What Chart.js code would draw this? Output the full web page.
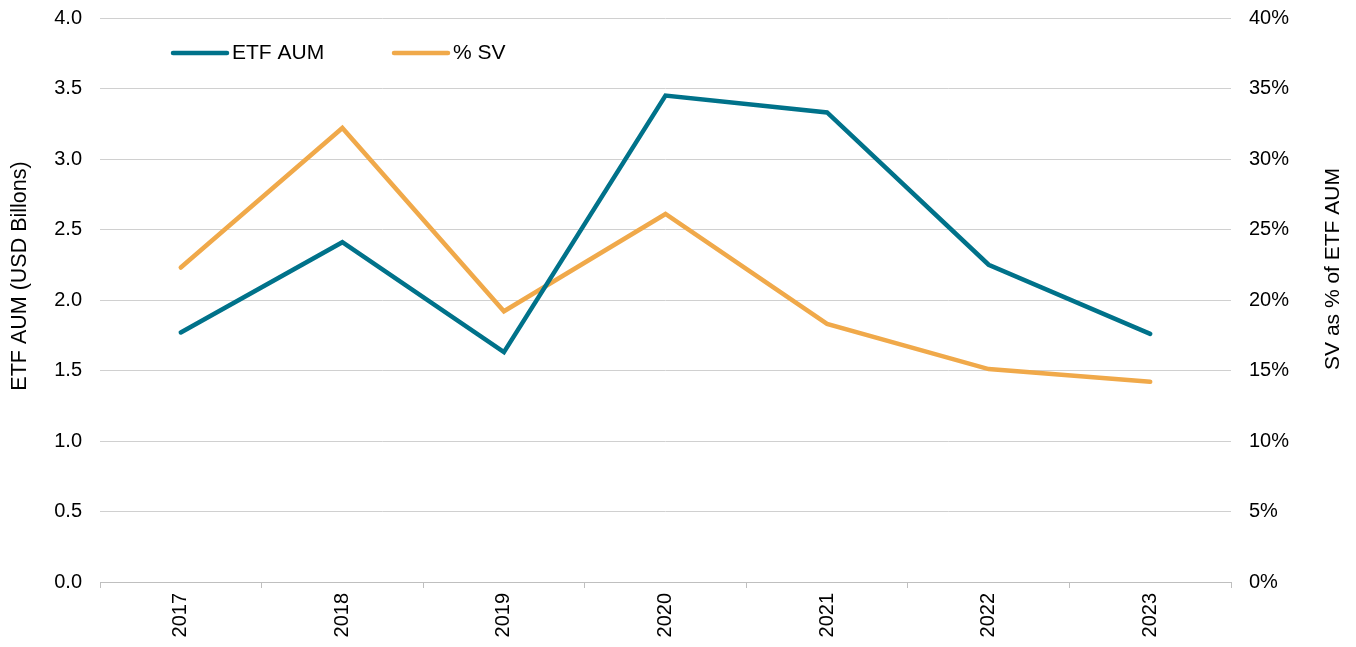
<!DOCTYPE html>
<html>
<head>
<meta charset="utf-8">
<script src="https://cdn.jsdelivr.net/npm/chart.js@4/dist/chart.umd.min.js"></script>
<style>
  html, body { margin: 0; padding: 0; background: #fff; }
  #wrap { width: 1356px; height: 647px; position: relative; overflow: hidden; }
  #grafico { position: absolute; left: 0; top: -12px; }
</style>
</head>
<body>
<div id="wrap"><canvas id="grafico" width="1356" height="659"></canvas></div>
<script>
// dados
const anos = ["2017", "2018", "2019", "2020", "2021", "2022", "2023"];
const etfAum = [1.77, 2.41, 1.63, 3.45, 3.33, 2.25, 1.76];
const pctSv = [22.3, 32.2, 19.2, 26.1, 18.3, 15.1, 14.2];

const corEtf = "#00728A";
const corSv = "#F0A94A";
const fonte = "'Liberation Sans', Arial, sans-serif";
const desloc = 12; // canvas sobe 12px

function textoVertical(ctx, texto, x, y) {
  ctx.save();
  ctx.translate(x, y);
  ctx.rotate(-Math.PI / 2);
  ctx.textAlign = "center";
  ctx.textBaseline = "middle";
  ctx.fillText(texto, 0, 0);
  ctx.restore();
}

// legenda e titulos dos eixos desenhados a mao
const extras = {
  id: "extras",
  afterDraw(chart) {
    const ctx = chart.ctx;
    const itens = [
      { texto: "ETF AUM", cor: corEtf, x: 173 },
      { texto: "% SV", cor: corSv, x: 394 },
    ];
    const yLeg = 53 + desloc;
    ctx.save();
    ctx.font = "21px " + fonte;
    ctx.textBaseline = "middle";
    itens.forEach((it) => {
      ctx.strokeStyle = it.cor;
      ctx.lineWidth = 4.5;
      ctx.lineCap = "round";
      ctx.beginPath();
      ctx.moveTo(it.x, yLeg);
      ctx.lineTo(it.x + 54, yLeg);
      ctx.stroke();
      ctx.fillStyle = "#000";
      ctx.fillText(it.texto, it.x + 59, yLeg);
    });

    ctx.font = "21.5px " + fonte;
    textoVertical(ctx, "ETF AUM (USD Billons)", 20, 276 + desloc);
    ctx.font = "21px " + fonte;
    textoVertical(ctx, "SV as % of ETF AUM", 1333, 269 + desloc);
    ctx.restore();
  },
};

const ctx = document.getElementById("grafico").getContext("2d");
new Chart(ctx, {
  type: "line",
  data: {
    labels: anos,
    datasets: [
      {
        label: "ETF AUM",
        data: etfAum,
        yAxisID: "y",
        borderColor: corEtf,
        borderWidth: 4.5,
        pointRadius: 0,
        tension: 0,
        borderCapStyle: "round",
      },
      {
        label: "% SV",
        data: pctSv,
        yAxisID: "y1",
        borderColor: corSv,
        borderWidth: 4.5,
        pointRadius: 0,
        tension: 0,
        borderCapStyle: "round",
      },
    ],
  },
  options: {
    responsive: false,
    animation: false,
    layout: { padding: 0 },
    plugins: { legend: { display: false }, tooltip: { enabled: false } },
    scales: {
      x: {
        offset: true,
        grid: {
          offset: true,
          drawOnChartArea: false,
          drawTicks: true,
          tickLength: 6,
          color: "#BFBFBF",
        },
        border: { color: "#BFBFBF", width: 1 },
        ticks: {
          minRotation: 90,
          maxRotation: 90,
          color: "#000",
          font: { family: fonte, size: 20 },
          padding: 5,
        },
        afterFit(scale) { scale.height = 65; },
      },
      y: {
        position: "left",
        min: 0,
        max: 4,
        ticks: {
          stepSize: 0.5,
          color: "#000",
          font: { family: fonte, size: 20 },
          padding: 18,
          callback: (v) => v.toFixed(1),
        },
        grid: { color: "#D0D0D0", lineWidth: 1, drawTicks: false },
        border: { display: false },
        afterFit(scale) { scale.width = 100; },
      },
      y1: {
        position: "right",
        min: 0,
        max: 40,
        ticks: {
          stepSize: 5,
          color: "#000",
          font: { family: fonte, size: 20 },
          padding: 18,
          callback: (v) => v + "%",
        },
        grid: { drawOnChartArea: false, drawTicks: false },
        border: { display: false },
        afterFit(scale) { scale.width = 125; },
      },
    },
  },
  plugins: [extras],
});
</script>
</body>
</html>
